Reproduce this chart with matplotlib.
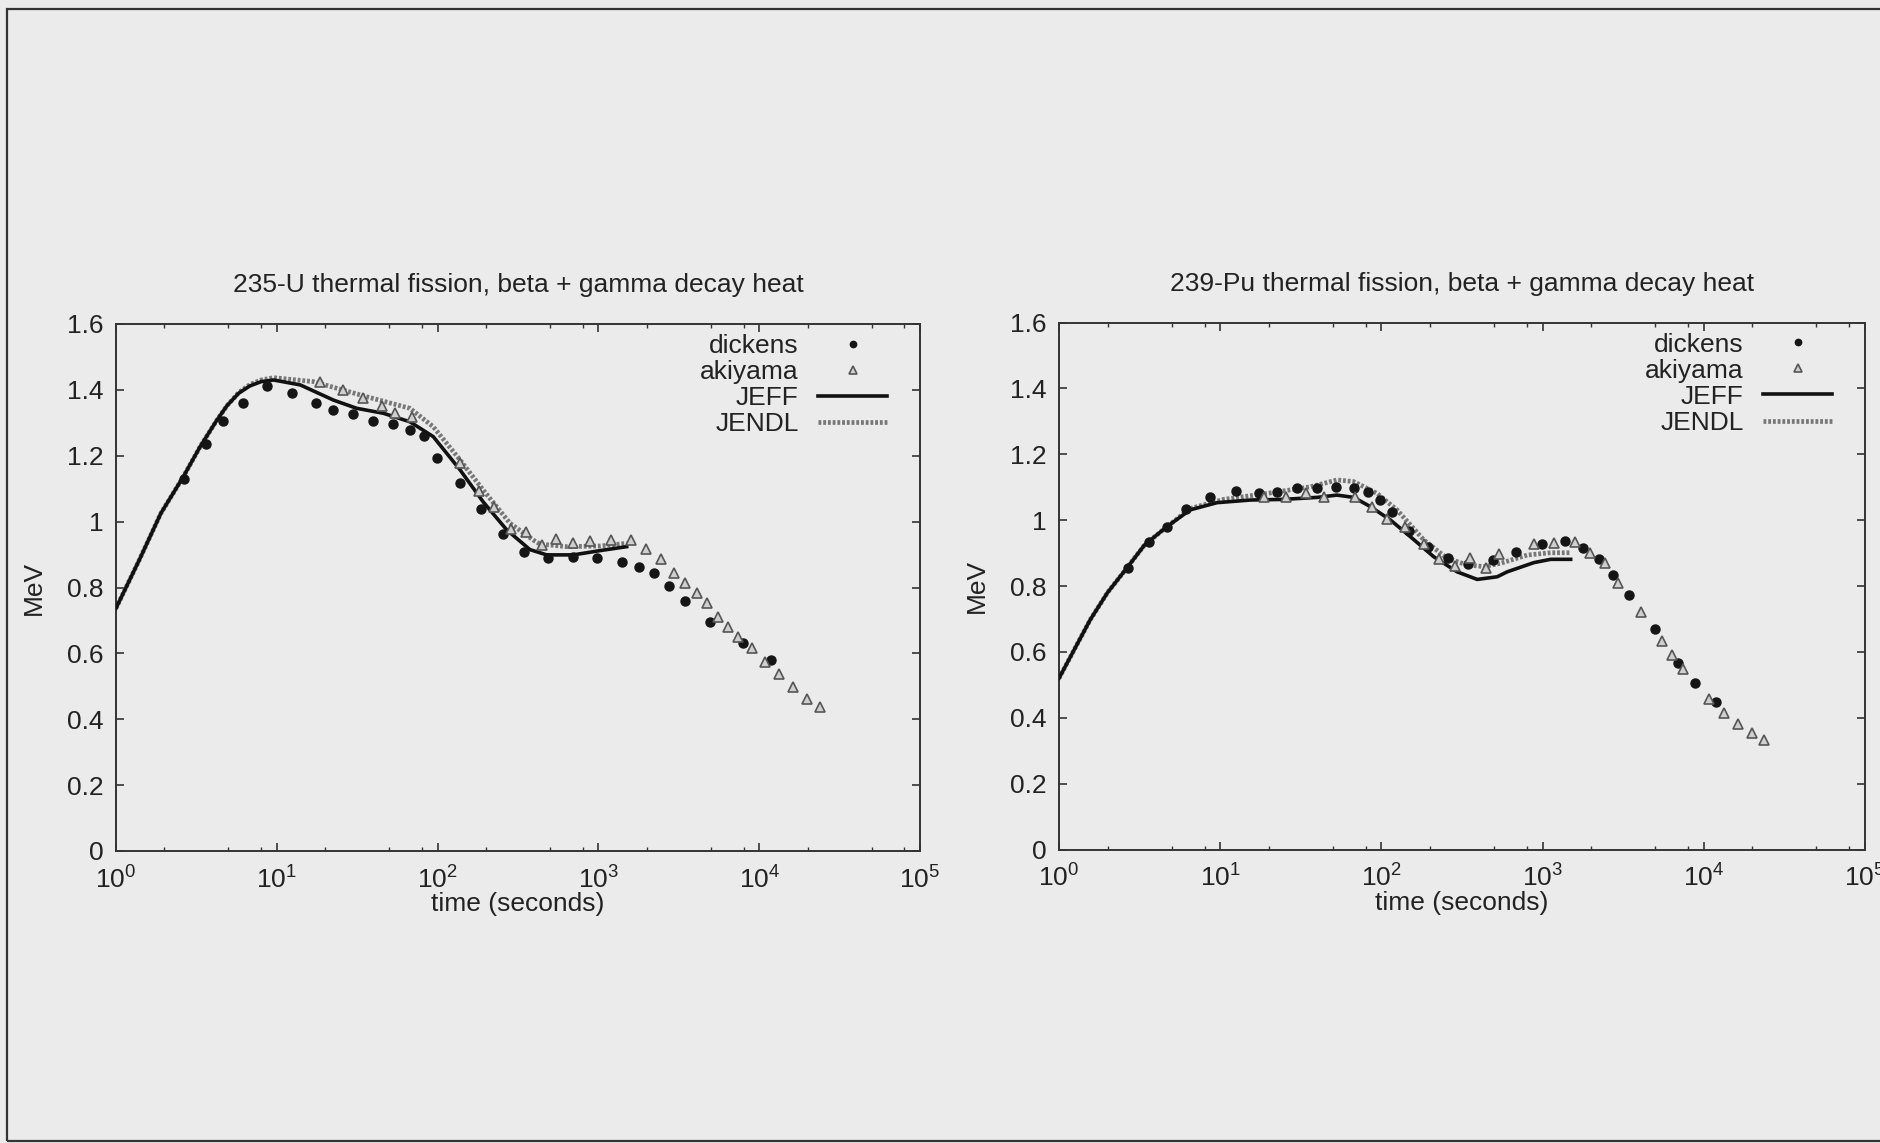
import math
import matplotlib
matplotlib.use("Agg")
import matplotlib.pyplot as plt
from matplotlib.ticker import LogLocator, FuncFormatter
from matplotlib.patches import Rectangle

plt.rcParams['font.family'] = ['Liberation Sans', 'DejaVu Sans']
plt.rcParams['mathtext.fontset'] = 'custom'
plt.rcParams['mathtext.rm'] = 'Liberation Sans'
plt.rcParams['mathtext.it'] = 'Liberation Sans'

# ---------------- data: 235-U ----------------
u_dickens_t = [2.65, 3.63, 4.65, 6.13, 8.65, 12.5, 17.5, 22.5, 29.9, 39.5, 53, 67.3, 82, 98.6,
               138, 186, 256, 345, 485, 692, 986, 1397, 1780, 2228, 2736, 3456, 4943, 7890, 11830]
u_dickens_v = [1.129, 1.237, 1.305, 1.361, 1.413, 1.390, 1.359, 1.338, 1.328, 1.305, 1.297, 1.278,
               1.259, 1.194, 1.118, 1.038, 0.961, 0.907, 0.889, 0.893, 0.890, 0.878, 0.863, 0.845,
               0.806, 0.759, 0.695, 0.631, 0.579]
u_akiyama_t = [18.6, 25.7, 34.5, 44.9, 54.3, 69.6, 138, 181, 225, 285, 355, 444, 545, 692, 888,
               1191, 1596, 1978, 2440, 2951, 3472, 4090, 4767, 5560, 6430, 7410, 8980, 10860,
               13340, 16300, 19900, 23900]
u_akiyama_v = [1.425, 1.401, 1.374, 1.351, 1.329, 1.318, 1.177, 1.094, 1.045, 0.979, 0.967, 0.929,
               0.946, 0.936, 0.942, 0.944, 0.944, 0.916, 0.886, 0.845, 0.815, 0.782, 0.752, 0.710,
               0.680, 0.651, 0.617, 0.573, 0.538, 0.497, 0.462, 0.438]
u_jeff_t = [1, 1.4, 1.9, 2.62, 3.33, 4.2, 4.9, 5.8, 6.8, 8.0, 9.55, 14, 22.5, 31.4, 46, 67.3, 94, 138,
            192, 269, 375, 477, 698, 1023, 1500]
u_jeff_v = [0.737, 0.885, 1.025, 1.136, 1.227, 1.305, 1.352, 1.390, 1.412, 1.425, 1.430, 1.415, 1.369,
            1.344, 1.329, 1.303, 1.258, 1.157, 1.060, 0.975, 0.915, 0.899, 0.899, 0.912, 0.924]
u_jendl_t = [1, 1.4, 1.9, 2.62, 3.33, 4.2, 4.9, 5.8, 6.8, 8.0, 9.55, 16.9, 36.3, 67.3, 94, 138, 192,
             282, 394, 433, 635, 1023, 1500]
u_jendl_v = [0.737, 0.885, 1.025, 1.136, 1.227, 1.305, 1.352, 1.392, 1.416, 1.430, 1.437, 1.425, 1.379,
             1.344, 1.288, 1.187, 1.096, 0.995, 0.944, 0.932, 0.924, 0.926, 0.934]

# ---------------- data: 239-Pu ----------------
pu_dickens_t = [2.67, 3.64, 4.67, 6.12, 8.67, 12.5, 17.5, 22.5, 29.9, 39.9, 52.3, 67.3, 82.2, 98.6,
                116, 148, 194, 258, 344, 491, 687, 995, 1376, 1779, 2237, 2735, 3459, 4963, 6920,
                8870, 11880]
pu_dickens_v = [0.854, 0.934, 0.978, 1.033, 1.071, 1.089, 1.081, 1.084, 1.097, 1.098, 1.101, 1.097,
                1.086, 1.061, 1.026, 0.968, 0.917, 0.884, 0.866, 0.879, 0.902, 0.927, 0.938, 0.914,
                0.881, 0.832, 0.773, 0.670, 0.567, 0.504, 0.448]
pu_akiyama_t = [18.6, 25.7, 34.2, 44.3, 69, 87.5, 109, 141, 183, 227, 286, 353, 443, 536, 883, 1175,
                1580, 1968, 2427, 2937, 4060, 5540, 6390, 7450, 10800, 13250, 16330, 19770, 23680]
pu_akiyama_v = [1.071, 1.071, 1.083, 1.071, 1.071, 1.039, 1.003, 0.980, 0.927, 0.881, 0.862, 0.884,
                0.854, 0.898, 0.927, 0.931, 0.933, 0.899, 0.869, 0.810, 0.722, 0.633, 0.590, 0.547,
                0.456, 0.413, 0.380, 0.353, 0.332]
pu_jeff_t = [1, 1.56, 2.0, 2.63, 3.4, 4.67, 6.5, 9.55, 15.4, 24.7, 39.9, 53, 67.3, 85.5, 114, 151,
             211, 295, 393, 523, 603, 883, 1122, 1493]
pu_jeff_v = [0.52, 0.697, 0.780, 0.854, 0.925, 0.980, 1.031, 1.053, 1.061, 1.063, 1.069, 1.076,
             1.069, 1.041, 1.000, 0.950, 0.889, 0.843, 0.820, 0.828, 0.843, 0.871, 0.881, 0.881]
pu_jendl_t = [1, 1.56, 2.0, 2.63, 3.4, 4.67, 6.5, 10.5, 19.5, 36.2, 53, 67.3, 94, 125, 183, 256, 340,
              432, 548, 804, 1122, 1493]
pu_jendl_v = [0.52, 0.697, 0.780, 0.854, 0.925, 0.980, 1.035, 1.063, 1.081, 1.101, 1.122, 1.117,
              1.081, 1.031, 0.940, 0.884, 0.864, 0.859, 0.869, 0.894, 0.901, 0.901]

titles = ["235-U thermal fission, beta + gamma decay heat",
          "239-Pu thermal fission, beta + gamma decay heat"]
y_ticks = [0, 0.2, 0.4, 0.6, 0.8, 1.0, 1.2, 1.4, 1.6]
y_tick_labels = ["0", "0.2", "0.4", "0.6", "0.8", "1", "1.2", "1.4", "1.6"]
x_label = "time (seconds)"
y_label = "MeV"

BG = "#ebebeb"
TXT = "#222222"
FS = 19

fig = plt.figure(figsize=(18.8, 11.43), dpi=100, facecolor=BG)
fig.patches.append(Rectangle((7 / 1880, 2 / 1143), 1.2, 1 - 11 / 1143, transform=fig.transFigure,
                             fill=False, edgecolor="#333333", linewidth=1.6))

positions = [[116 / 1880, 1 - 851 / 1143, 804 / 1880, 527 / 1143],
             [1059 / 1880, 1 - 849.5 / 1143, 806 / 1880, 527 / 1143]]

datasets = [
    (u_dickens_t, u_dickens_v, u_akiyama_t, u_akiyama_v, u_jeff_t, u_jeff_v, u_jendl_t, u_jendl_v),
    (pu_dickens_t, pu_dickens_v, pu_akiyama_t, pu_akiyama_v, pu_jeff_t, pu_jeff_v, pu_jendl_t, pu_jendl_v),
]

for i, (pos, d) in enumerate(zip(positions, datasets)):
    ax = fig.add_axes(pos)
    ax.set_facecolor(BG)
    dt, dv, at, av, jt, jv, nt, nv = d
    ax.plot(nt, nv, color="#777777", lw=3.4, ls=(0, (0.6, 0.4)), label="JENDL", zorder=2)
    ax.plot(jt, jv, color="#111111", lw=2.6, ls="-", label="JEFF", zorder=3)
    ax.plot(dt, dv, ls="none", marker="o", ms=6.5, mfc="#151515", mec="#151515", label="dickens", zorder=4)
    ax.plot(at, av, ls="none", marker="^", ms=7.5, mfc="#cfcfcf", mec="#555555", mew=1.2,
            label="akiyama", zorder=4)
    ax.set_xscale("log")
    ax.set_xlim(1, 1e5)
    ax.set_ylim(0, 1.6)
    ax.xaxis.set_major_locator(LogLocator(base=10, numticks=10))
    ax.xaxis.set_minor_locator(LogLocator(base=10, subs=[2, 5, 8], numticks=20))
    ax.xaxis.set_major_formatter(FuncFormatter(lambda v, p: r"$10^{%d}$" % round(math.log10(v))))
    ax.set_yticks(y_ticks)
    ax.set_yticklabels(y_tick_labels)
    ax.tick_params(which="both", direction="in", top=True, right=True, colors="#333333",
                   labelcolor=TXT, labelsize=FS)
    ax.tick_params(which="major", length=6, width=1.2)
    ax.tick_params(which="minor", length=3, width=1.0)
    ax.tick_params(axis="x", which="major", pad=11)
    ax.tick_params(axis="y", which="major", pad=9)
    for s in ax.spines.values():
        s.set_color("#333333")
        s.set_linewidth(1.4)
    ax.set_title(titles[i], fontsize=FS, color=TXT, pad=23)
    ax.set_xlabel(x_label, fontsize=FS, color=TXT, labelpad=-1)
    ax.set_ylabel(y_label, fontsize=FS, color=TXT, labelpad=15)
    h, l = ax.get_legend_handles_labels()
    order = [2, 3, 1, 0]
    leg = ax.legend([h[k] for k in order], [l[k] for k in order], loc="upper right",
                    bbox_to_anchor=(1 - 33 / 804, 1 - 10 / 527), borderaxespad=0, frameon=False,
                    markerfirst=False, fontsize=FS, handlelength=2.6, handletextpad=0.75,
                    labelspacing=0.08, markerscale=0.7, borderpad=0)
    for t in leg.get_texts():
        t.set_color(TXT)

fig.savefig("out.png", dpi=100, facecolor=BG)
